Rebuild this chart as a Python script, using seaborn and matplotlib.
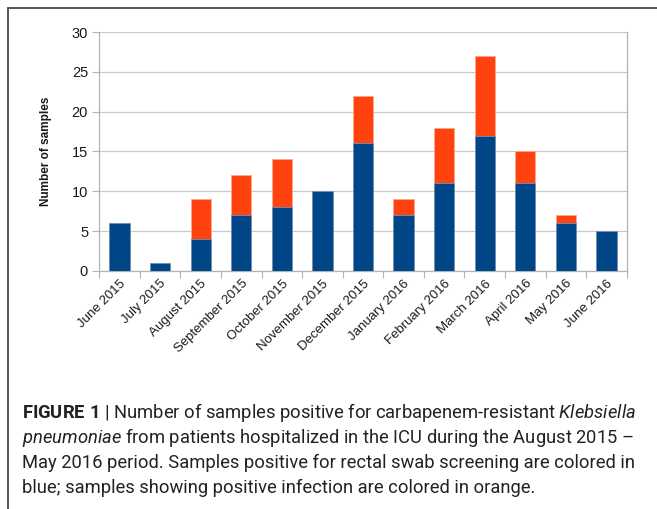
import numpy as np
import pandas as pd
import matplotlib
matplotlib.use("Agg")
import matplotlib.pyplot as plt
from matplotlib.lines import Line2D
import seaborn as sns

# monthly counts
months = ['June 2015', 'July 2015', 'August 2015', 'September 2015', 'October 2015',
          'November 2015', 'December 2015', 'January 2016', 'February 2016',
          'March 2016', 'April 2016', 'May 2016', 'June 2016']
rectal_swab = [6, 1, 4, 7, 8, 10, 16, 7, 11, 17, 11, 6, 5]
infection = [0, 0, 5, 5, 6, 0, 6, 2, 7, 10, 4, 1, 0]

BLUE = '#004586'
ORANGE = '#ff420e'
GRID = '#c8c8c8'

sns.set_theme(style='white')
plt.rcParams['font.family'] = ['Liberation Sans', 'DejaVu Sans']
plt.rcParams['mathtext.fontset'] = 'custom'
plt.rcParams['mathtext.rm'] = 'Roboto'
plt.rcParams['mathtext.it'] = 'Roboto:italic'
plt.rcParams['mathtext.bf'] = 'Roboto:bold'

df = pd.DataFrame({'month': months, 'swab': rectal_swab, 'infection': infection})
df['total'] = df['swab'] + df['infection']

fig = plt.figure(figsize=(6.57, 5.09), dpi=100)
ax = fig.add_axes([0.151, 0.468, 0.803, 0.469])

# stacked bars: draw totals in orange, then the blue part on top of it
sns.barplot(data=df, x='month', y='total', color=ORANGE, saturation=1, width=0.5,
            edgecolor='#ffa890', linewidth=0.6, ax=ax, zorder=3)
sns.barplot(data=df, x='month', y='swab', color=BLUE, saturation=1, width=0.5,
            edgecolor='#6f95c0', linewidth=0.6, ax=ax, zorder=4)

ax.set_ylim(0, 30)
ax.set_xlim(-0.5, len(months) - 0.5)
ax.set_yticks(range(0, 31, 5))
ax.yaxis.grid(True, color=GRID, linewidth=0.9, zorder=0)
ax.set_axisbelow(True)

for side in ['left', 'right', 'bottom']:
    ax.spines[side].set_color('#b3b3b3')
    ax.spines[side].set_linewidth(0.9)
ax.spines['top'].set_visible(False)

ax.tick_params(axis='y', length=5, width=0.8, color='#b3b3b3', labelsize=10.5,
               labelcolor='#1a1a1a', pad=3, left=True)
ax.set_xticks(np.arange(-0.5, len(months), 1), minor=True)
ax.tick_params(axis='x', which='minor', length=5, width=0.8, color='#b3b3b3', bottom=True)
ax.tick_params(axis='x', which='major', length=0, pad=5)
ax.set_xticks(range(len(months)))
ax.set_xticklabels(months, rotation=45, ha='right', rotation_mode='anchor',
                   fontsize=9.5, color='#1a1a1a')

ax.set_xlabel('')
ax.set_ylabel('Number of samples', fontsize=8.5, fontweight='bold', color='#1a1a1a', labelpad=14)

# frame lines around the figure panel
fig.add_artist(Line2D([8 / 657, 1], [1 - 8 / 509, 1 - 8 / 509], color='#555555', lw=1.4))
fig.add_artist(Line2D([8 / 657, 8 / 657], [0, 1 - 8 / 509], color='#555555', lw=1.4))

caption = [
    r'$\bf{FIGURE\ 1}$ | Number of samples positive for carbapenem-resistant $\it{Klebsiella}$',
    r'$\it{pneumoniae}$ from patients hospitalized in the ICU during the August 2015 –',
    'May 2016 period. Samples positive for rectal swab screening are colored in',
    'blue; samples showing positive infection are colored in orange.',
]
for i, line in enumerate(caption):
    fig.text(22 / 657, 1 - (412 + 25.3 * i) / 509, line, fontsize=13.2, family='Roboto',
             color='#222222', va='center', ha='left')

fig.savefig('out.png', dpi=100)
